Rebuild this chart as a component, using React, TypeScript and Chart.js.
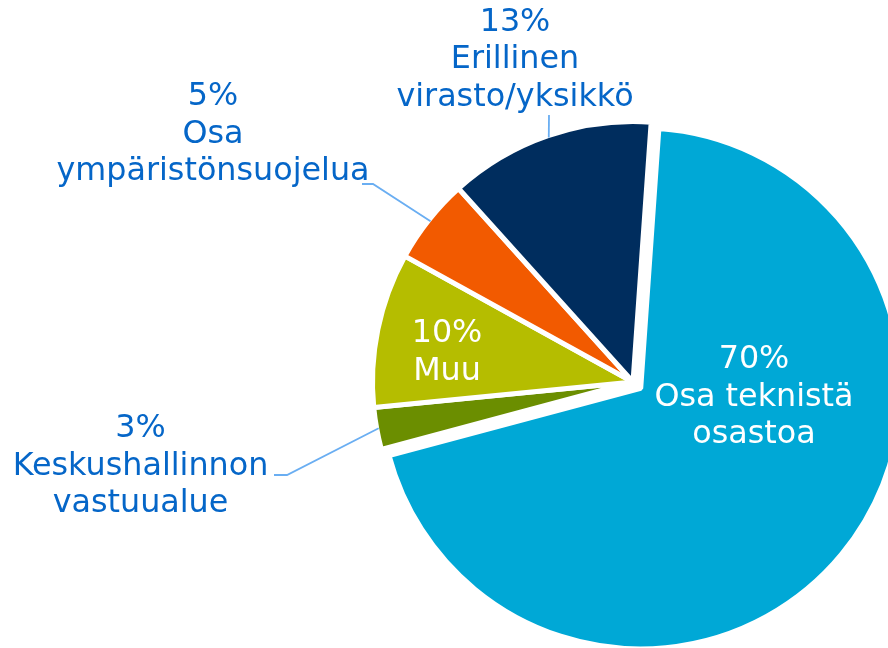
import React, { useEffect, useRef } from "react";
import { Chart, registerables } from "chart.js";

Chart.register(...registerables);

// ---- data ----
const categories = [
  "Osa teknistä\nosastoa",
  "Keskushallinnon\nvastuualue",
  "Muu",
  "Osa\nympäristönsuojelua",
  "Erillinen\nvirasto/yksikkö",
];
const values = [69.8, 2.6, 9.6, 5.3, 12.8];

// ---- styles / layout ----
const colors = ["#00A8D6", "#6B8E00", "#B5BD00", "#F25A00", "#002D5E"];
const explode = [10, 0, 0, 0, 0];
const TEXT_BLUE = "#0566C8";
const LEADER = "#6AAEF2";
const FONT = '31.8px "DejaVu Sans", Verdana, sans-serif';
const LINE_H = 37.6;
// label anchor: centre x, first baseline y, colour, leader elbow points (from label to arc)
const labelLayout = [
  { x: 754, y: 368, color: "#FFFFFF", leader: null as number[][] | null },
  { x: 140.5, y: 437, color: TEXT_BLUE, leader: [[274, 475], [287, 475]] },
  { x: 447, y: 342, color: "#FFFFFF", leader: null },
  { x: 213, y: 105, color: TEXT_BLUE, leader: [[362, 184], [373, 184]] },
  { x: 515, y: 30.7, color: TEXT_BLUE, leader: [[549, 115]] },
];

const labelPlugin = {
  id: "sliceLabels",
  afterDatasetUpdate(chart: any) {
    const meta = chart.getDatasetMeta(0);
    meta.data.forEach((arc: any, i: number) => {
      const d = explode[i] || 0;
      if (!d) return;
      const mid = (arc.startAngle + arc.endAngle) / 2;
      arc.x += Math.cos(mid) * d;
      arc.y += Math.sin(mid) * d;
    });
  },
  afterDraw(chart: any) {
    const ctx = chart.ctx;
    const meta = chart.getDatasetMeta(0);
    const total = values.reduce((a, b) => a + b, 0);
    ctx.save();
    ctx.font = FONT;
    ctx.textAlign = "center";
    ctx.textBaseline = "alphabetic";
    meta.data.forEach((arc: any, i: number) => {
      const lay = labelLayout[i];
      const pct = Math.round((values[i] / total) * 100) + "%";
      const lines = [pct, ...categories[i].split("\n")];
      ctx.fillStyle = lay.color;
      lines.forEach((t, k) => ctx.fillText(t, lay.x, lay.y + k * LINE_H));
      if (lay.leader) {
        const mid = (arc.startAngle + arc.endAngle) / 2;
        const r = arc.outerRadius - 2;
        const px = arc.x + Math.cos(mid) * r;
        const py = arc.y + Math.sin(mid) * r;
        ctx.strokeStyle = LEADER;
        ctx.lineWidth = 1.8;
        ctx.beginPath();
        lay.leader.forEach((p, k) => (k === 0 ? ctx.moveTo(p[0], p[1]) : ctx.lineTo(p[0], p[1])));
        ctx.lineTo(px, py);
        ctx.stroke();
      }
    });
    ctx.restore();
  },
};

export default function App() {
  const ref = useRef<HTMLCanvasElement | null>(null);
  useEffect(() => {
    document.body.style.margin = "0";
    if (!ref.current) return;
    const chart = new Chart(ref.current, {
      type: "pie",
      data: {
        labels: categories.map((c) => c.replace("\n", " ")),
        datasets: [
          {
            data: values,
            backgroundColor: colors,
            borderColor: "#FFFFFF",
            borderWidth: 5,
          },
        ],
      },
      options: {
        responsive: false,
        animation: false,
        devicePixelRatio: 1,
        rotation: 4,
        layout: { padding: { left: 370, top: 119, right: 24, bottom: 35 } },
        plugins: { legend: { display: false }, tooltip: { enabled: false } },
      },
      plugins: [labelPlugin],
    } as any);
    return () => chart.destroy();
  }, []);
  return (
    <div style={{ position: "absolute", left: 0, top: 0, width: 888, height: 648, overflow: "hidden", background: "#fff" }}>
      <canvas ref={ref} width={920} height={680} style={{ width: 920, height: 680, display: "block" }} />
    </div>
  );
}
